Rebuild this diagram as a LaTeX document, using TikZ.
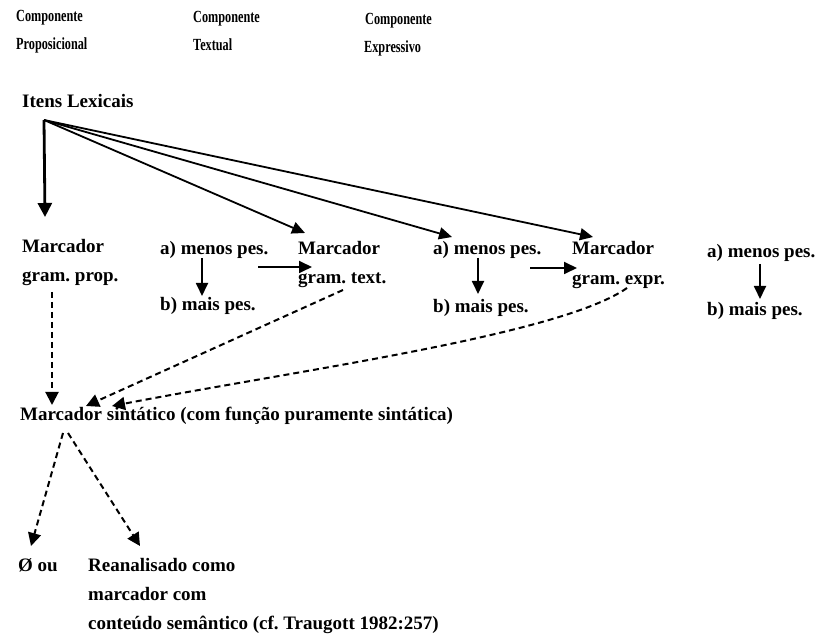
\documentclass[tikz,border=0pt]{standalone}
\usepackage{fontspec}
\setmainfont{Liberation Serif}
\newfontfamily\hdrfont[FakeStretch=0.72]{Liberation Serif}
\usetikzlibrary{arrows.meta,calc}
\begin{document}
\frenchspacing
\begin{tikzpicture}[x=1pt,y=-1pt,
  txt/.style={anchor=base west,inner sep=0pt,font=\fontsize{19}{22}\selectfont\bfseries},
  hdr/.style={anchor=base west,inner sep=0pt,font=\hdrfont\fontsize{17}{20}\selectfont\bfseries},
  arr/.style={line width=1.8pt,-{Triangle[length=13pt,width=12pt]}},
  thickarr/.style={line width=2.8pt,-{Triangle[length=14pt,width=14pt]}},
  darr/.style={line width=2pt,dash pattern=on 6pt off 4pt,-{Triangle[length=13pt,width=13pt]}}]
\path[use as bounding box] (0,0) rectangle (815,636);
% headers
\node[hdr] (h1a) at (16,22) {Componente};
\node[hdr] (h1b) at (16,50) {Proposicional};
\node[hdr] (h2a) at (193,23) {Componente};
\node[hdr] (h2b) at (193,51) {Textual};
\node[hdr] (h3a) at (365,25) {Componente};
\node[hdr] (h3b) at (364,53) {Expressivo};
% lexical items
\node[txt] (itens) at (22,108) {Itens Lexicais};
\coordinate (src) at (44,120);
% row
\node[txt] (mp1) at (22,253) {Marcador};
\node[txt] (mp2) at (22,282) {gram. prop.};
\node[txt] (am1) at (160,255) {a) menos pes.};
\node[txt] (bm1) at (160,311) {b) mais pes.};
\node[txt] (mt1) at (298,255) {Marcador};
\node[txt] (mt2) at (298,284) {gram. text.};
\node[txt] (am2) at (433,255) {a) menos pes.};
\node[txt] (bm2) at (433,313) {b) mais pes.};
\node[txt] (me1) at (572,255) {Marcador};
\node[txt] (me2) at (572,285) {gram. expr.};
\node[txt] (am3) at (707,258) {a) menos pes.};
\node[txt] (bm3) at (707,316) {b) mais pes.};
% syntactic
\node[txt] (sin) at (20,421) {Marcador sintático (com função puramente sintática)};
\node[txt] (zero) at (18,572) {Ø ou};
\node[txt] (re1) at (88,572) {Reanalisado como};
\node[txt] (re2) at (88,601) {marcador com};
\node[txt] (re3) at (88,630) {conteúdo semântico (cf. Traugott 1982:257)};
% arrows from lexical items
\draw[thickarr] (src) -- ($(mp1.base west)+(23,-36)$);
\draw[arr] (src) -- ($(mt1.base west)+(7,-22)$);
\draw[arr] (src) -- ($(am2.base west)+(19,-18)$);
\draw[arr] (src) -- ($(me1.base west)+(21,-18)$);
% a -> b
\draw[arr] ($(am1.base west)+(42,3)$) -- ($(bm1.base west)+(42,-15)$);
\draw[arr] ($(am2.base west)+(45,3)$) -- ($(bm2.base west)+(45,-19)$);
\draw[arr] ($(am3.base west)+(53,6)$) -- ($(bm3.base west)+(53,-17)$);
% a -> Marcador
\draw[arr] ($(am1.base west)+(98,12)$) -- ($(mt2.base west)+(14,-17)$);
\draw[arr] ($(am2.base west)+(97,13)$) -- ($(me2.base west)+(5,-17)$);
% dashed to syntactic marker
\draw[darr] ($(mp2.base west)+(30,10)$) -- ($(sin.base west)+(32,-16)$);
\draw[darr] ($(mt2.base west)+(45,6)$) -- ($(sin.base west)+(66,-15)$);
\draw[darr] ($(me2.base west)+(55,3)$) .. controls (560,335) and (300,370) .. ($(sin.base west)+(92,-15)$);
% from syntactic marker
\draw[darr] ($(sin.base west)+(43,12)$) -- ($(zero.base west)+(13,-26)$);
\draw[darr] ($(sin.base west)+(48,12)$) -- ($(re1.base west)+(52,-26)$);
\end{tikzpicture}
\end{document}
